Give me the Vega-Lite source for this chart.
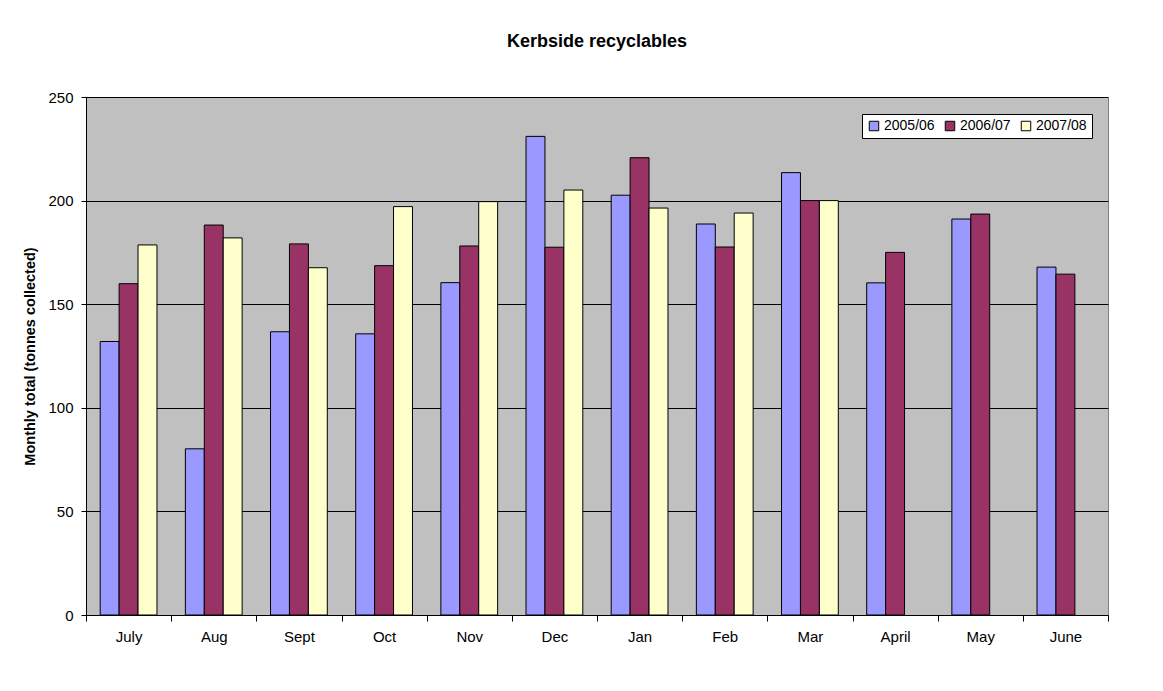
{
  "$schema": "https://vega.github.io/schema/vega-lite/v6.json",
  "width": 1022,
  "height": 518,
  "autosize": {"type": "none"},
  "padding": {"left": 86, "top": 97, "right": 55, "bottom": 76},
  "background": "white",
  "title": {"text": "Kerbside recyclables", "font": "Liberation Sans", "fontSize": 18, "fontWeight": "bold", "color": "black", "anchor": "middle", "offset": 39},
  "data": {"values": [
    {"month": "July", "year": "2005/06", "tonnes": 132.0},
    {"month": "July", "year": "2006/07", "tonnes": 159.9},
    {"month": "July", "year": "2007/08", "tonnes": 178.6},
    {"month": "Aug", "year": "2005/06", "tonnes": 80.2},
    {"month": "Aug", "year": "2006/07", "tonnes": 188.2},
    {"month": "Aug", "year": "2007/08", "tonnes": 182.0},
    {"month": "Sept", "year": "2005/06", "tonnes": 136.7},
    {"month": "Sept", "year": "2006/07", "tonnes": 179.1},
    {"month": "Sept", "year": "2007/08", "tonnes": 167.6},
    {"month": "Oct", "year": "2005/06", "tonnes": 135.7},
    {"month": "Oct", "year": "2006/07", "tonnes": 168.6},
    {"month": "Oct", "year": "2007/08", "tonnes": 197.1},
    {"month": "Nov", "year": "2005/06", "tonnes": 160.4},
    {"month": "Nov", "year": "2006/07", "tonnes": 178.1},
    {"month": "Nov", "year": "2007/08", "tonnes": 199.5},
    {"month": "Dec", "year": "2005/06", "tonnes": 231.0},
    {"month": "Dec", "year": "2006/07", "tonnes": 177.5},
    {"month": "Dec", "year": "2007/08", "tonnes": 205.1},
    {"month": "Jan", "year": "2005/06", "tonnes": 202.6},
    {"month": "Jan", "year": "2006/07", "tonnes": 220.7},
    {"month": "Jan", "year": "2007/08", "tonnes": 196.4},
    {"month": "Feb", "year": "2005/06", "tonnes": 188.7},
    {"month": "Feb", "year": "2006/07", "tonnes": 177.6},
    {"month": "Feb", "year": "2007/08", "tonnes": 194.0},
    {"month": "Mar", "year": "2005/06", "tonnes": 213.5},
    {"month": "Mar", "year": "2006/07", "tonnes": 200.0},
    {"month": "Mar", "year": "2007/08", "tonnes": 200.0},
    {"month": "April", "year": "2005/06", "tonnes": 160.3},
    {"month": "April", "year": "2006/07", "tonnes": 175.0},
    {"month": "May", "year": "2005/06", "tonnes": 191.1},
    {"month": "May", "year": "2006/07", "tonnes": 193.5},
    {"month": "June", "year": "2005/06", "tonnes": 167.9},
    {"month": "June", "year": "2006/07", "tonnes": 164.5}
  ]},
  "mark": {"type": "bar", "stroke": "black", "strokeWidth": 1, "opacity": 1},
  "encoding": {
    "x": {
      "field": "month", "type": "nominal",
      "sort": ["July", "Aug", "Sept", "Oct", "Nov", "Dec", "Jan", "Feb", "Mar", "April", "May", "June"],
      "scale": {"paddingInner": 0, "paddingOuter": 0},
      "axis": {"title": null, "labelAngle": 0, "tickBand": "extent", "labelFont": "Liberation Sans", "labelFontSize": 15, "labelColor": "black", "labelPadding": 8, "domainColor": "black", "tickColor": "black", "tickSize": 6, "grid": false}
    },
    "xOffset": {
      "field": "year", "type": "nominal",
      "scale": {"domain": ["2005/06", "2006/07", "2007/08"], "paddingInner": 0, "paddingOuter": 0.75}
    },
    "y": {
      "field": "tonnes", "type": "quantitative",
      "scale": {"domain": [0, 250], "nice": false},
      "axis": {"title": "Monthly total (tonnes collected)", "values": [0, 50, 100, 150, 200, 250], "titleFont": "Liberation Sans", "titleFontSize": 14.5, "titleFontWeight": "bold", "titleColor": "black", "titlePadding": 10, "labelFont": "Liberation Sans", "labelFontSize": 15, "labelColor": "black", "labelPadding": 8, "domainColor": "black", "tickColor": "black", "tickSize": 5, "grid": true, "gridColor": "black", "gridWidth": 1, "gridOpacity": 1}
    },
    "fill": {
      "field": "year", "type": "nominal",
      "scale": {"domain": ["2005/06", "2006/07", "2007/08"], "range": ["#9999FF", "#993366", "#FFFFCC"]},
      "legend": {"title": null, "orient": "none", "legendX": 776, "legendY": 17, "direction": "horizontal", "fillColor": "white", "strokeColor": "black", "padding": 5, "symbolType": "square", "symbolSize": 90, "symbolStrokeColor": "black", "symbolStrokeWidth": 1, "labelFont": "Liberation Sans", "labelFontSize": 14, "labelColor": "black", "labelOffset": 3, "columnPadding": 8, "symbolOpacity": 1}
    }
  },
  "config": {
    "view": {"fill": "#C0C0C0", "stroke": "#808080", "strokeWidth": 1},
    "axis": {"domainWidth": 1, "tickWidth": 1}
  }
}
